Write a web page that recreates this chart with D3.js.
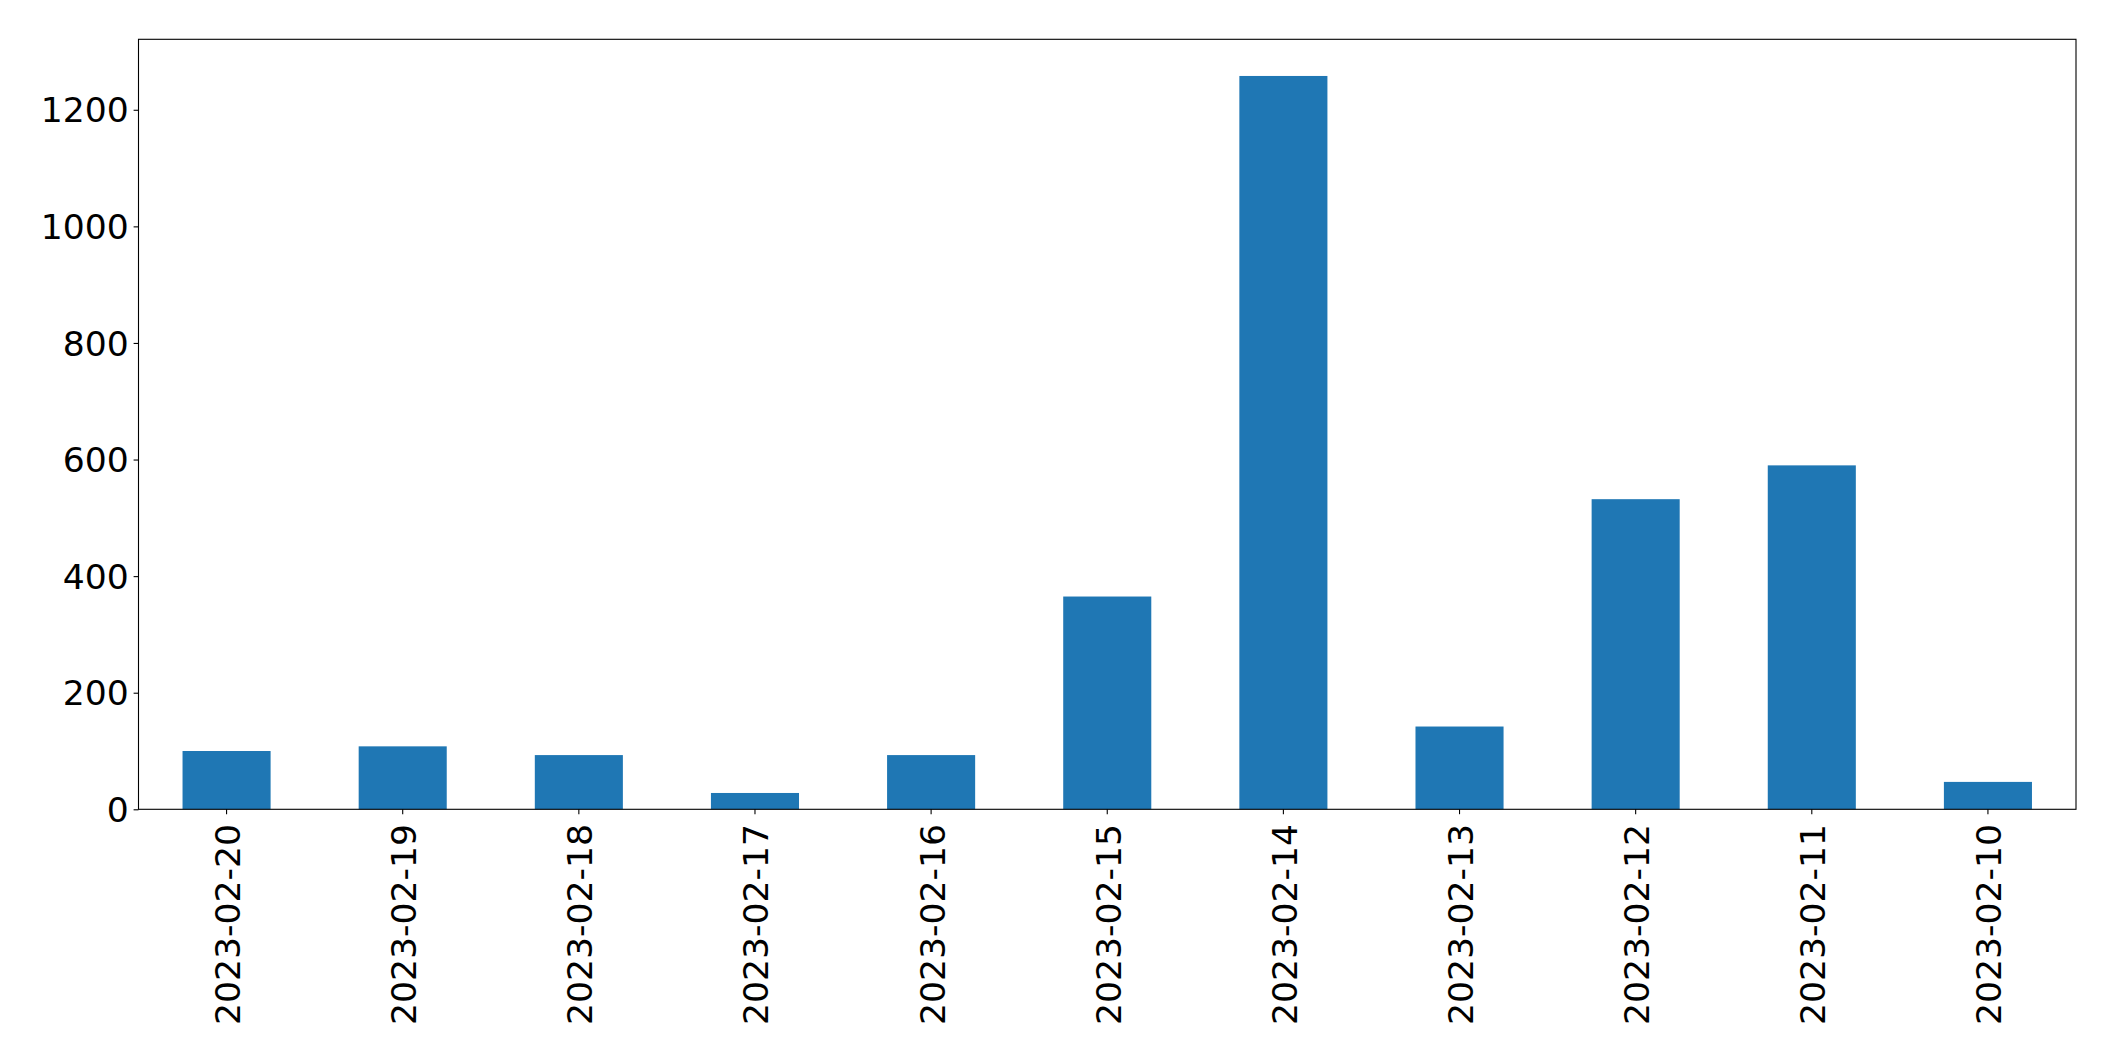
<!DOCTYPE html>
<html>
<head>
<meta charset="utf-8">
<script src="https://cdn.jsdelivr.net/npm/d3@7"></script>
<style>
  html, body { margin: 0; padding: 0; background: #fff; }
  svg { display: block; }
  text { font-family: "DejaVu Sans", sans-serif; fill: #000; }
</style>
</head>
<body>
<svg id="chart" width="2115" height="1061"></svg>
<script>
const categories = ["2023-02-20","2023-02-19","2023-02-18","2023-02-17","2023-02-16","2023-02-15","2023-02-14","2023-02-13","2023-02-12","2023-02-11","2023-02-10"];
const values = [100, 108, 93, 28, 93, 365, 1258, 142, 532, 590, 47];
const yTicks = [0, 200, 400, 600, 800, 1000, 1200];

const W = 2115, H = 1061;
const margin = { left: 138.5, right: W - 2076, top: 39.3, bottom: H - 809.3 };
const fontSize = 34.6;
const tickLen = 4.9, pad = 4.9;

const svg = d3.select("#chart");
const x = d3.scaleBand().domain(categories)
  .range([margin.left, W - margin.right])
  .paddingInner(0.5).paddingOuter(0.25);
const yMax = d3.max(values) * 1.05;
const y = d3.scaleLinear().domain([0, yMax]).range([H - margin.bottom, margin.top]);

// bars
svg.append("g").selectAll("rect").data(values).join("rect")
  .attr("x", (d, i) => x(categories[i]))
  .attr("width", x.bandwidth())
  .attr("y", d => y(d))
  .attr("height", d => y(0) - y(d))
  .attr("fill", "#1f77b4");

// y axis
const yAxis = d3.axisLeft(y).tickValues(yTicks).tickSize(tickLen).tickPadding(pad).tickFormat(d3.format("d"));
const gy = svg.append("g").attr("transform", `translate(${margin.left},0)`).call(yAxis);
gy.select(".domain").remove();
gy.selectAll("line").attr("stroke", "#000").attr("stroke-width", 1.1);
gy.selectAll("text").attr("font-size", fontSize).attr("font-family", "DejaVu Sans").attr("dy", "0.35em");

// x axis
const xAxis = d3.axisBottom(x).tickSize(tickLen).tickPadding(pad);
const gx = svg.append("g").attr("transform", `translate(0,${H - margin.bottom})`).call(xAxis);
gx.select(".domain").remove();
gx.selectAll("line").attr("stroke", "#000").attr("stroke-width", 1.1);
gx.selectAll("text")
  .attr("font-size", fontSize).attr("font-family", "DejaVu Sans")
  .attr("text-anchor", "end")
  .attr("x", 0).attr("y", 0)
  .attr("dy", "0.39em")
  .attr("transform", `translate(0,${tickLen + pad + 5}) rotate(-90)`);

// frame
svg.append("rect")
  .attr("x", margin.left).attr("y", margin.top)
  .attr("width", W - margin.right - margin.left)
  .attr("height", H - margin.bottom - margin.top)
  .attr("fill", "none").attr("stroke", "#000").attr("stroke-width", 1.1);
</script>
</body>
</html>
